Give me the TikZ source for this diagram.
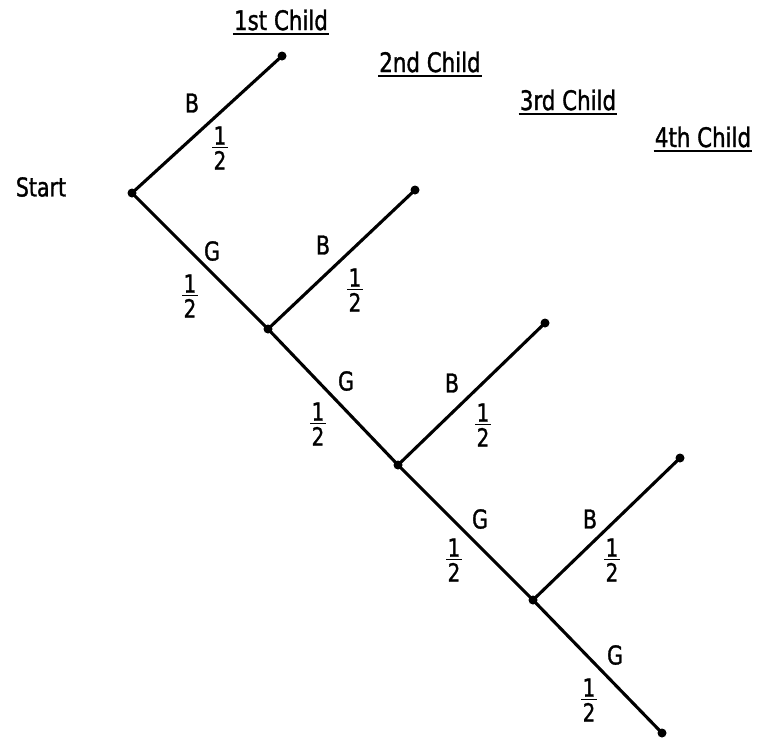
\documentclass[tikz,border=0pt]{standalone}
\usepackage{fontspec}
\setmainfont{DejaVu Sans Condensed}[FakeStretch=0.88,FakeBold=1.2]
\newcommand{\hf}{\vbox{\hbox to 0.62em{\hss 1\hss}\kern2pt\hrule height 1.8pt\kern2.5pt\hbox to 0.62em{\hss 2\hss}}}
\begin{document}
\begin{tikzpicture}[x=1pt,y=-1pt,
  br/.style={line width=3.1pt},
  dot/.style={circle,fill=black,inner sep=0pt,minimum size=9pt},
  lbl/.style={font=\fontsize{26}{27}\selectfont,inner sep=0pt},
  frac/.style={font=\fontsize{25}{26}\selectfont,inner sep=0pt},
  head/.style={font=\fontsize{27}{28}\selectfont,inner sep=1pt}]
\useasboundingbox (0,0) rectangle (771,740);
% points
\node[dot] (s) at (132,193) {};
\node[dot] (b1) at (282,56) {};
\node[dot] (g1) at (268,329) {};
\node[dot] (b2) at (415,190) {};
\node[dot] (g2) at (398,465) {};
\node[dot] (b3) at (545,323) {};
\node[dot] (g3) at (533,600) {};
\node[dot] (b4) at (680,458) {};
\node[dot] (g4) at (662,733) {};
\draw[br] (s.center) -- (b1.center);
\draw[br] (s.center) -- (g1.center) -- (g2.center) -- (g3.center) -- (g4.center);
\draw[br] (g1.center) -- (b2.center);
\draw[br] (g2.center) -- (b3.center);
\draw[br] (g3.center) -- (b4.center);
% labels
\node[lbl] (start) at (41,187) {Start};
\node[lbl] (lb1) at (192,103) {B};
\node[frac] (fb1) at (220,148) {\hf};
\node[lbl] (lg1) at (212,251) {G};
\node[frac] (fg1) at (190,296) {\hf};
\node[lbl] (lb2) at (323,245) {B};
\node[frac] (fb2) at (355,290) {\hf};
\node[lbl] (lg2) at (346,381) {G};
\node[frac] (fg2) at (318,424) {\hf};
\node[lbl] (lb3) at (452,383) {B};
\node[frac] (fb3) at (483,425) {\hf};
\node[lbl] (lg3) at (480,519) {G};
\node[frac] (fg3) at (454,560) {\hf};
\node[lbl] (lb4) at (590,519) {B};
\node[frac] (fb4) at (612,560) {\hf};
\node[lbl] (lg4) at (615,655) {G};
\node[frac] (fg4) at (589,700) {\hf};
% headings
\node[head] (h1) at (281,20) {1st Child};
\node[head] (h2) at (430,62) {2nd Child};
\node[head] (h3) at (568,100) {3rd Child};
\node[head] (h4) at (703,137) {4th Child};
\foreach \h in {h1,h2,h3,h4}
  \draw[line width=2pt] ([yshift=-2pt]\h.south west) -- ([yshift=-2pt]\h.south east);
\end{tikzpicture}
\end{document}
